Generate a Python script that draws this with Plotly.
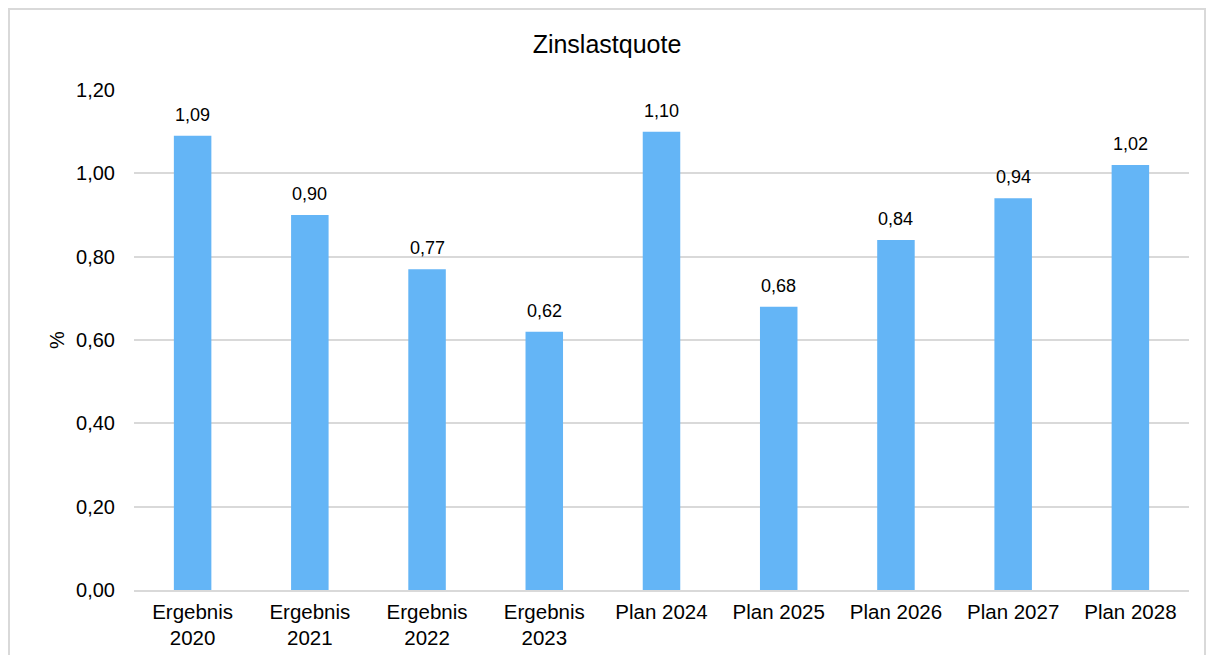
import plotly.graph_objects as go

categories = ["Ergebnis<br>2020", "Ergebnis<br>2021", "Ergebnis<br>2022", "Ergebnis<br>2023",
              "Plan 2024", "Plan 2025", "Plan 2026", "Plan 2027", "Plan 2028"]
values = [1.09, 0.90, 0.77, 0.62, 1.10, 0.68, 0.84, 0.94, 1.02]
labels = [f"{v:.2f}".replace(".", ",") for v in values]

fig = go.Figure()
fig.add_trace(go.Bar(x=categories, y=values, marker_color="#64B5F6", marker_line_width=0,
                     hoverinfo="x+y"))

for c, v, t in zip(categories, values, labels):
    fig.add_annotation(x=c, y=v, text=t, showarrow=False, yanchor="bottom", yshift=9,
                       font=dict(size=18, color="#000000"))

# figure is placed at (8, 8) in the page by the default body margin
W, H = 1198, 647
L, T = 126, 82
pw, ph = 1055, 500
R, B = W - L - pw, H - T - ph

fig.add_shape(type="rect", xref="paper", yref="paper",
              x0=(1 - L) / pw, x1=(W - 1 - L) / pw,
              y0=(H - B - (H + 20)) / ph, y1=(H - B - 1) / ph,
              line=dict(color="#d9d9d9", width=2), fillcolor="rgba(0,0,0,0)", layer="below")

fig.update_layout(
    width=W, height=H,
    margin=dict(l=L, r=R, t=T, b=B, autoexpand=False),
    paper_bgcolor="white", plot_bgcolor="white",
    separators=",.",
    bargap=0.68,
    showlegend=False,
    font=dict(family="Liberation Sans, Arial, sans-serif", color="#000000"),
    title=dict(text="Zinslastquote", x=0.5, xanchor="center", y=1 - 36 / H, yanchor="middle",
               font=dict(size=25, color="#000000")),
    xaxis=dict(showgrid=False, showline=True, linecolor="#d9d9d9", linewidth=2, automargin=False,
               tickfont=dict(size=20.5), ticks="", ticklabelstandoff=2),
    yaxis=dict(range=[0, 1.2], dtick=0.2, tickformat=".2f", showgrid=True, gridcolor="#d9d9d9",
               gridwidth=1.5, zeroline=False, showline=False, ticks="", automargin=False,
               tickfont=dict(size=20), ticklabelstandoff=18,
               title=dict(text="%", font=dict(size=20), standoff=6)),
)

fig.write_html("out.html")
